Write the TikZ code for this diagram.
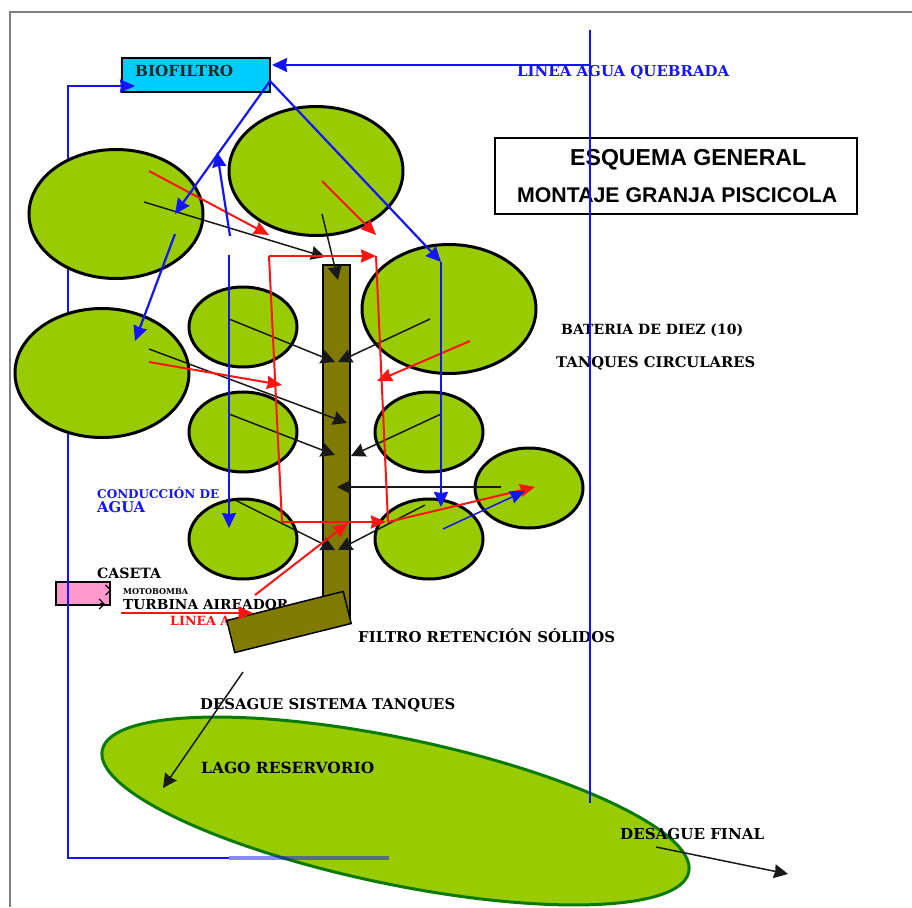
\documentclass[tikz,border=0pt]{standalone}
\usepackage{fontspec}
\usepackage{graphicx}
\setmainfont{DejaVu Serif}
\newfontfamily\sansb{Liberation Sans}
\usetikzlibrary{shapes.geometric,arrows.meta}
\definecolor{tank}{HTML}{99CC00}
\definecolor{olivebar}{HTML}{807A00}
\definecolor{cyanbox}{HTML}{00CCFF}
\definecolor{pinkbox}{HTML}{FF99CC}
\definecolor{wblue}{HTML}{1414FF}
\definecolor{wred}{HTML}{FF1414}
\definecolor{framegray}{HTML}{808080}
\definecolor{lakeline}{HTML}{0A7A00}
\newcommand{\fitw}[2]{\resizebox{#1pt}{!}{\bfseries\vphantom{H}\smash{#2}}}
\newcommand{\fits}[2]{\resizebox{#1pt}{!}{\sansb\bfseries\vphantom{H}\smash{#2}}}
\tikzset{
  tanknode/.style={ellipse,draw=black,fill=tank,line width=3pt,inner sep=0pt},
  bigtank/.style={tanknode,minimum width=174pt,minimum height=129pt},
  smalltank/.style={tanknode,minimum width=108pt,minimum height=80pt},
  barnode/.style={draw=black,fill=olivebar,line width=1.5pt,inner sep=0pt},
  lbl/.style={anchor=west,inner sep=0pt,text=#1},
  bluea/.style={draw=wblue,line width=2.2pt,-{Stealth[length=15pt,width=14pt,inset=1pt]}},
  blueb/.style={draw=wblue,line width=2.2pt},
  reda/.style={draw=wred,line width=2pt,-{Stealth[length=15pt,width=13pt,inset=1pt]}},
  redb/.style={draw=wred,line width=2pt},
  blacka/.style={draw=black!90,line width=1.5pt,-{Stealth[length=14pt,width=14pt,inset=1pt]}},
}
\begin{document}
\begin{tikzpicture}[x=1pt,y=-1pt]
\useasboundingbox (0,0) rectangle (912,907);
\fill[white] (0,0) rectangle (912,907);
% frame
\coordinate (fa) at (10,907); \coordinate (fb) at (10,12); \coordinate (fc) at (912,12);
\draw[framegray,line width=1.8pt] (fa) -- (fb) -- (fc);
% lake
\node[ellipse,draw=lakeline,fill=tank,line width=3pt,inner sep=0pt,minimum width=599pt,minimum height=146pt,rotate=-11.75] (lake) at (395.5,811) {};
% caseta
\node[draw=black,fill=pinkbox,line width=1.5pt,minimum width=54pt,minimum height=23pt,inner sep=0pt] (caseta) at (83,593.5) {};
% left return loop, behind the tanks
\coordinate (la) at (389,858); \coordinate (lb) at (229,858); \coordinate (lc) at (68,858); \coordinate (ld) at (68,86); \coordinate (le) at (135,86);
\node[draw=black,fill=cyanbox,line width=1.5pt,minimum width=148pt,minimum height=34pt,inner sep=0pt] (bio) at (196,75) {};
\draw[draw=wblue,line width=2.2pt,-{Stealth[length=15pt,width=13pt,inset=1pt]}] (lb) -- (lc) -- (ld) -- (le);
\draw[draw=wblue,opacity=.5,line width=3.2pt] (la) -- (lb);
% tanks
\node[bigtank] (t1) at (116,214) {};
\node[bigtank] (t2) at (316,171) {};
\node[bigtank] (t3) at (102,373) {};
\node[bigtank] (t4) at (449,309) {};
\node[smalltank] (s1) at (243,327) {};
\node[smalltank] (s2) at (243,432) {};
\node[smalltank] (s3) at (243,539) {};
\node[smalltank] (s4) at (429,432) {};
\node[smalltank] (s5) at (429,539) {};
\node[smalltank] (s6) at (529,488) {};
% drain pipe
\node[barnode,minimum width=27pt,minimum height=355pt] (pipe) at (336.5,442.5) {};
% texts
\node[lbl=black!85] (tbio) at (135,71) {\fitw{98}{BIOFILTRO}};
\node[lbl=wblue] (tline) at (517,71) {\fitw{212}{LINEA AGUA  QUEBRADA}};
\node[draw=black,line width=1.5pt,minimum width=362pt,minimum height=76pt,inner sep=0pt] (titlebox) at (676,176) {};
\node[lbl=black] (t1a) at (570,158) {\fits{236}{ESQUEMA GENERAL}};
\node[lbl=black] (t1b) at (517,195) {\fits{320}{MONTAJE GRANJA PISCICOLA}};
\node[lbl=black] (bat) at (561,329.5) {\fitw{182}{BATERIA DE DIEZ  (10)}};
\node[lbl=black] (tanq) at (556,362.5) {\fitw{199}{TANQUES CIRCULARES}};
\node[lbl=wblue] (cond) at (97,494) {\fitw{122}{CONDUCCIÓN DE}};
\node[lbl=wblue] (agua) at (97,507) {\fitw{48}{AGUA}};
\node[lbl=black] (tcas) at (97,573) {\fitw{64}{CASETA}};
\node[lbl=black] (tmot) at (123,591.5) {\fitw{65}{MOTOBOMBA}};
\node[lbl=black] (ttur) at (123,604) {\fitw{165}{TURBINA AIREADOR}};
\node[lbl=wred] (tlin) at (170,621) {\fitw{60}{LINEA A}};
\node[lbl=black] (tfil) at (358,637) {\fitw{257}{FILTRO RETENCIÓN SÓLIDOS}};
\node[lbl=black] (tdes) at (200,704) {\fitw{255}{DESAGUE SISTEMA TANQUES}};
\node[lbl=black] (tlag) at (201,768) {\fitw{173}{LAGO  RESERVORIO}};
\node[lbl=black] (tfin) at (620,834) {\fitw{144}{DESAGUE  FINAL}};
% filter, over the labels that it hides
\node[barnode,minimum width=120pt,minimum height=33pt,rotate=14] (filtro) at (289,622) {};
% named free ends
\foreach \n/\x/\y in {
 b1/590/30,b2/590/803,b3/590/65,b4/270/81,b5/441/262,b6/441/507,b7/230/236,b8/217/152,b9/229/255,b10/229/528,
 b11/175/234,b12/135/341,b13/443/529,b14/525/491,b15/175/214,b16/272/65,
 r1/149/171,r2/269/235,r3/322/181,r4/376/235,r5/269/256,r6/376/256,r7/282/522,r8/386/522,r9/388/522,
 r10/149/362,r11/282/385,r12/470/341,r13/377/381,r14/535/487,r15/255/595,r16/348/523,r17/121/613,r18/253/613,
 k1/144/202,k2/325/257,k3/322/214,k4/338/280,k5/229/319,k6/335/362,k7/430/319,k8/338/362,k9/149/349,k10/347/423,
 k11/229/414,k12/335/455,k13/441/414,k14/351/456,k15/501/487,k16/337/487,k17/235/500,k18/335/550,k19/425/505,k20/338/550,
 k21/243/672,k22/163/788,k23/656/847,k24/788/874,c1/105/590,c2/109/590,c3/100/604,c4/105/604}
 {\coordinate (\n) at (\x,\y);}
% black
\foreach \a/\b in {k1/k2,k3/k4,k5/k6,k7/k8,k9/k10,k11/k12,k13/k14,k15/k16,k17/k18,k19/k20,k21/k22,k23/k24}
 \draw[blacka] (\a) -- (\b);
\draw[black,line width=1.2pt,{Straight Barb[reversed,length=5pt,width=10pt]}-] (c1) -- (c2);
\draw[black,line width=1.2pt,-{Straight Barb[length=5pt,width=10pt]}] (c3) -- (c4);
% red
\draw[redb] (r5) -- (r7);
\draw[redb] (r6) -- (r9);
\foreach \a/\b in {r1/r2,r3/r4,r5/r6,r7/r8,r10/r11,r12/r13,r9/r14,r15/r16,r17/r18}
 \draw[reda] (\a) -- (\b);
% blue
\draw[blueb] (b1) -- (b2);
\draw[bluea] (b3) -- (b16);
\draw[bluea] (b4) -- (b15);
\draw[bluea] (b4) -- (b5);
\draw[bluea] (b5) -- (b6);
\draw[bluea] (b7) -- (b8);
\draw[bluea] (b9) -- (b10);
\draw[bluea] (b11) -- (b12);
\draw[draw=wblue,line width=1.5pt,-{Stealth[length=15pt,width=13pt,inset=1pt]}] (b13) -- (b14);
\end{tikzpicture}
\end{document}
